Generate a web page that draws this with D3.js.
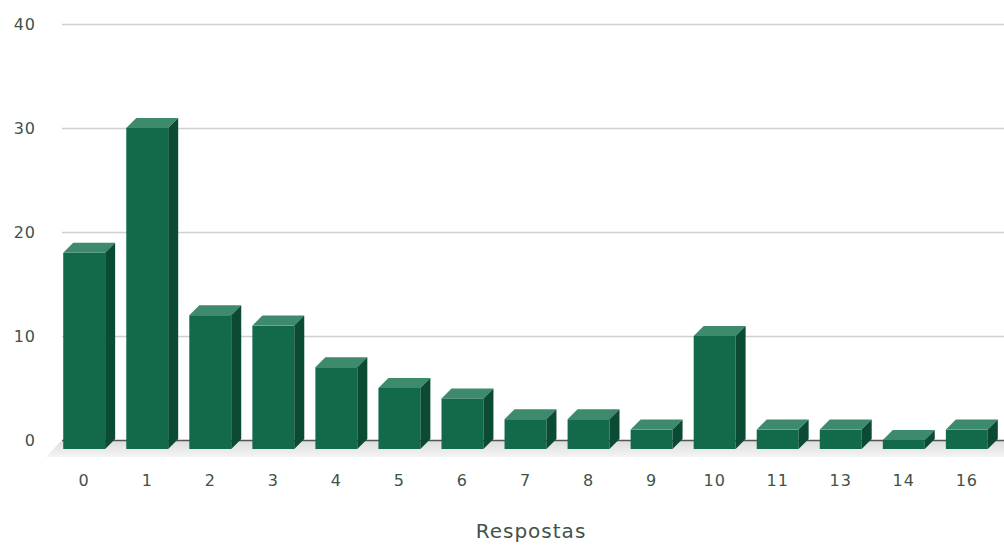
<!DOCTYPE html>
<html>
<head>
<meta charset="utf-8">
<script src="https://cdn.jsdelivr.net/npm/d3@7"></script>
<style>
  body { margin: 0; background: #fff; }
  svg { display: block; font-family: "DejaVu Sans", sans-serif; }
</style>
</head>
<body>
<svg id="chart"></svg>
<script>
let categories = ["0", "1", "2", "3", "4", "5", "6", "7", "8", "9", "10", "11", "13", "14", "16"];
let counts = [18, 30, 12, 11, 7, 5, 4, 2, 2, 1, 10, 1, 1, 0, 1];
let yTicks = [0, 10, 20, 30, 40];
let xTitle = "Respostas";

function drawChart() {
  let width = 1004, height = 545;
  let svg = d3.select("#chart").attr("width", width).attr("height", height);
  let depth = 10;

  let x = d3.scaleBand()
    .domain(categories)
    .range([52.5, 998.5])
    .paddingInner(0.335)
    .paddingOuter(0.17);
  let y = d3.scaleLinear().domain([0, 40]).range([440, 24]);

  // floor
  let defs = svg.append("defs");
  let grad = defs.append("linearGradient").attr("id", "floor")
    .attr("x1", 0).attr("y1", 0).attr("x2", 0).attr("y2", 1);
  grad.append("stop").attr("offset", "0%").attr("stop-color", "#dcdcdc");
  grad.append("stop").attr("offset", "100%").attr("stop-color", "#f4f4f4");
  svg.append("path")
    .attr("d", `M62,${y(0)} L${width},${y(0)} L${width},${y(0) + 17} L46,${y(0) + 17} Z`)
    .attr("fill", "url(#floor)");

  // grid
  svg.append("g").selectAll("line").data(yTicks.filter(d => d > 0))
    .enter().append("line")
    .attr("x1", 62).attr("x2", width)
    .attr("y1", d => y(d) + 0.5).attr("y2", d => y(d) + 0.5)
    .attr("stroke", "#d0d0d0").attr("stroke-width", 1.5);
  svg.append("line")
    .attr("x1", 62).attr("x2", width)
    .attr("y1", y(0) + 0.5).attr("y2", y(0) + 0.5)
    .attr("stroke", "#555").attr("stroke-width", 1.5);

  // y labels
  svg.append("g").selectAll("text").data(yTicks)
    .enter().append("text")
    .attr("x", 36).attr("y", d => y(d))
    .attr("dy", "0.36em")
    .attr("text-anchor", "end")
    .attr("fill", "#3f524c")
    .attr("font-size", 16)
    .attr("letter-spacing", 1)
    .text(d => d);

  // bars
  let bars = svg.append("g").selectAll("g").data(categories)
    .enter().append("g");
  let bw = x.bandwidth();
  let base = y(0) + 9;
  bars.append("rect")
    .attr("x", d => x(d))
    .attr("y", (d, i) => y(counts[i]))
    .attr("width", bw)
    .attr("height", (d, i) => base - y(counts[i]))
    .attr("fill", "#126a4a");
  bars.append("path")
    .attr("d", (d, i) => {
      let x0 = x(d), t = y(counts[i]);
      return `M${x0},${t} L${x0 + depth},${t - depth} L${x0 + bw + depth},${t - depth} L${x0 + bw},${t} Z`;
    })
    .attr("fill", "#3d8a6c");
  bars.append("path")
    .attr("d", (d, i) => {
      let x1 = x(d) + bw, t = y(counts[i]);
      return `M${x1},${t} L${x1 + depth},${t - depth} L${x1 + depth},${base - depth} L${x1},${base} Z`;
    })
    .attr("fill", "#0b4a33");

  // x labels
  svg.append("g").selectAll("text").data(categories)
    .enter().append("text")
    .attr("x", d => x(d) + bw / 2)
    .attr("y", 480)
    .attr("dy", "0.36em")
    .attr("text-anchor", "middle")
    .attr("fill", "#3f524c")
    .attr("font-size", 16)
    .attr("letter-spacing", 1)
    .text(d => d);

  svg.append("text")
    .attr("x", 531).attr("y", 538)
    .attr("text-anchor", "middle")
    .attr("fill", "#3f524c")
    .attr("font-size", 20)
    .attr("letter-spacing", 1)
    .text(xTitle);
}

drawChart();
</script>
</body>
</html>
